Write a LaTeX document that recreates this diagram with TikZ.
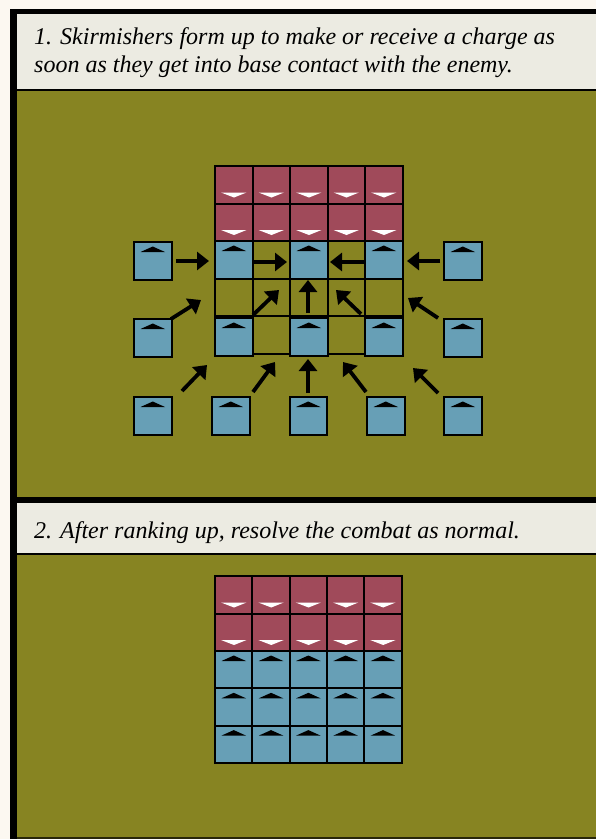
\documentclass[tikz,border=0pt]{standalone}
\usepackage{fontspec}
\setmainfont{Liberation Serif}
\usetikzlibrary{arrows.meta}
\definecolor{creambg}{HTML}{FCF8F1}
\definecolor{olive}{HTML}{878422}
\definecolor{headbg}{HTML}{ECEBE2}
\definecolor{redc}{HTML}{A04A5A}
\definecolor{bluec}{HTML}{679FB6}
\tikzset{
  cellline/.style={draw=black, line width=2pt},
  mvarrow/.style={line width=3.8pt, -{Triangle[length=12pt,width=18pt]}},
  headtext/.style={anchor=base west, inner sep=0pt, font=\fontsize{24}{28}\selectfont\itshape},
  bunit/.pic={
    \fill[bluec] (0,0) rectangle (37.5,37.5);
    \fill[black] (6.5,10) -- (18.75,4.5) -- (31,10) -- cycle;
    \draw[cellline] (0,0) rectangle (37.5,37.5);
  },
  runit/.pic={
    \fill[redc] (0,0) rectangle (37.5,37.5);
    \fill[white] (6,26.5) -- (31.5,26.5) -- (19,31.5) -- cycle;
    \draw[cellline] (0,0) rectangle (37.5,37.5);
  },
  eunit/.pic={
    \draw[cellline] (0,0) rectangle (37.5,37.5);
  }
}
\begin{document}
\begin{tikzpicture}[x=1pt,y=-1pt]
\useasboundingbox (0,0) rectangle (596,839);
% background and frame
\fill[creambg] (0,0) rectangle (596,839);
\fill[black] (10,9) rectangle (596,839);
\fill[headbg] (17,14) rectangle (596,88.5);
\fill[olive] (17,91) rectangle (596,497);
\fill[headbg] (17,503) rectangle (596,552.5);
\fill[olive] (17,555) rectangle (596,836.5);
\fill[black!70!olive] (17,836.5) rectangle (596,839);
% headings
\node[headtext] (h1a) at (34,44) {1. Skirmishers form up to make or receive a charge as};
\node[headtext] (h1b) at (34,72.5) {soon as they get into base contact with the enemy.};
\node[headtext] (h2) at (34,538) {2. After ranking up, resolve the combat as normal.};
% ---------------- panel 1
\foreach \c in {0,...,4} {
  \foreach \r in {0,1} {
    \pic at ({215+37.5*\c},{166+37.5*\r}) {runit};
  }
}
% row A
\foreach \c in {1,3} { \pic at ({215+37.5*\c},241) {eunit}; }
\foreach \c in {0,2,4} { \pic at ({215+37.5*\c},241) {bunit}; }
% row B
\foreach \c in {0,...,4} { \pic at ({215+37.5*\c},278.5) {eunit}; }
% row C
\foreach \c in {1,3} { \pic at ({215+37.5*\c},316) {eunit}; }
\foreach \c in {0,2,4} { \pic at ({215+37.5*\c},318) {bunit}; }
% outer skirmishers
\pic at (134,242) {bunit};
\pic at (444,242) {bunit};
\pic at (134,319) {bunit};
\pic at (444,319) {bunit};
\foreach \xx in {134,212,289.5,367,444} { \pic at (\xx,397) {bunit}; }
% arrows row A
\draw[mvarrow] (176,261) -- (209,261);
\draw[mvarrow] (254,262) -- (287,262);
\draw[mvarrow] (364,262) -- (330,262);
\draw[mvarrow] (440,261) -- (407,261);
% arrows row B
\draw[mvarrow] (171,319) -- (201,300);
\draw[mvarrow] (253,315) -- (279,290);
\draw[mvarrow] (308,313) -- (308,280);
\draw[mvarrow] (361,314) -- (336,290);
\draw[mvarrow] (438,318) -- (408,298);
% arrows between C and D
\draw[mvarrow] (182,391) -- (207,365);
\draw[mvarrow] (253,392) -- (275,362);
\draw[mvarrow] (308,393) -- (308,359);
\draw[mvarrow] (366,392) -- (343,362);
\draw[mvarrow] (438,393) -- (413,368);
% ---------------- panel 2
\foreach \c in {0,...,4} {
  \foreach \r in {0,1} {
    \pic at ({215+37.3*\c},{576+37.5*\r}) {runit};
  }
  \foreach \r in {0,1,2} {
    \pic at ({215+37.3*\c},{651+37.3*\r}) {bunit};
  }
}
\end{tikzpicture}
\end{document}
